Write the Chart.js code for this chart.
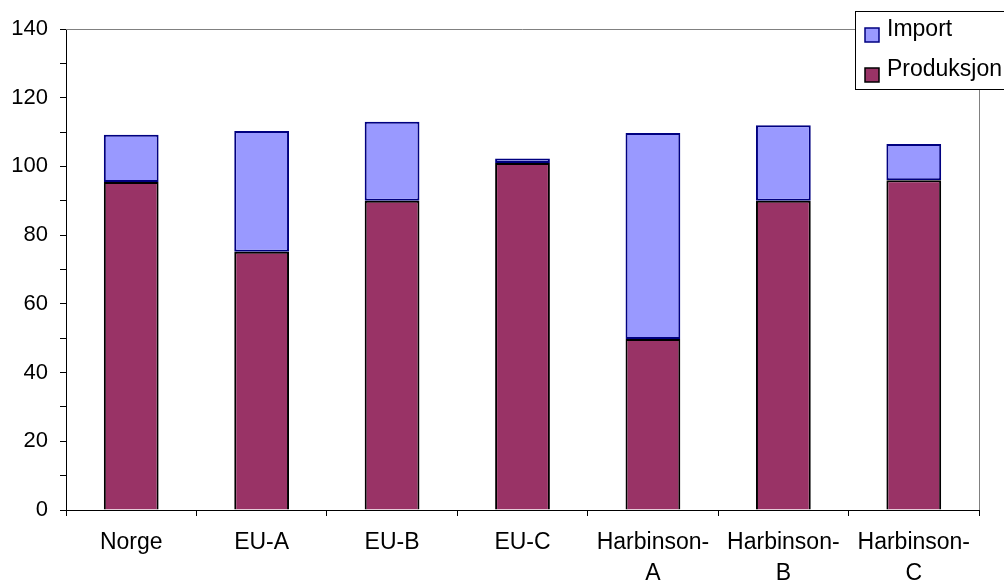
<!DOCTYPE html>
<html>
<head>
<meta charset="utf-8">
<script src="https://cdn.jsdelivr.net/npm/chart.js@4/dist/chart.umd.min.js"></script>
<style>
  html, body { margin: 0; padding: 0; background: #ffffff; }
  #wrap { width: 1004px; height: 583px; }
</style>
</head>
<body>
<div id="wrap"><canvas id="c" width="1004" height="583"></canvas></div>
<script>
// Categories and series
const categories = ['Norge', 'EU-A', 'EU-B', 'EU-C', ['Harbinson-', 'A'], ['Harbinson-', 'B'], ['Harbinson-', 'C']];
const produksjon = [95.5, 75.2, 90.0, 101.0, 49.8, 90.0, 96.0];
const importVals = [13.7, 35.1, 23.0, 1.3, 59.9, 22.0, 10.5];
const yTicks = [0, 20, 40, 60, 80, 100, 120, 140];

const FONT = "'Liberation Sans', Arial, sans-serif";

// Gray frame on the top and right of the plot area
const frame = {
  id: 'frame',
  beforeDatasetsDraw(chart) {
    const { ctx, chartArea: a } = chart;
    ctx.save();
    ctx.strokeStyle = '#808080';
    ctx.lineWidth = 1;
    ctx.beginPath();
    ctx.moveTo(a.left, Math.round(a.top) + 0.5);
    ctx.lineTo(Math.round(a.right) + 0.5, Math.round(a.top) + 0.5);
    ctx.lineTo(Math.round(a.right) + 0.5, a.bottom);
    ctx.stroke();
    ctx.restore();
  }
};

// Boxed legend in the upper right corner
const boxLegend = {
  id: 'boxLegend',
  afterDraw(chart) {
    const { ctx } = chart;
    const x = 855, y = 11, w = 200, h = 78;
    ctx.save();
    ctx.fillStyle = '#ffffff';
    ctx.fillRect(x, y, w, h);
    ctx.strokeStyle = '#000000';
    ctx.lineWidth = 1;
    ctx.strokeRect(x + 0.5, y + 0.5, w, h);
    const items = [chart.data.datasets[1], chart.data.datasets[0]];
    const rows = [30, 70];
    ctx.font = '23px ' + FONT;
    ctx.textBaseline = 'middle';
    ctx.textAlign = 'left';
    items.forEach((ds, i) => {
      const cy = rows[i];
      ctx.fillStyle = ds.backgroundColor;
      ctx.fillRect(865, cy - 2, 14, 14);
      ctx.strokeStyle = ds.borderColor;
      ctx.lineWidth = 1.5;
      ctx.strokeRect(865, cy - 2, 14, 14);
      ctx.fillStyle = '#000000';
      ctx.fillText(ds.label, 887, cy);
    });
    ctx.restore();
  }
};

new Chart(document.getElementById('c'), {
  type: 'bar',
  data: {
    labels: categories,
    datasets: [
      {
        label: 'Produksjon',
        data: produksjon,
        backgroundColor: '#993366',
        borderColor: '#000000',
        borderWidth: 2,
        borderSkipped: 'start'
      },
      {
        label: 'Import',
        data: importVals,
        backgroundColor: '#9999FF',
        borderColor: '#000080',
        borderWidth: 2,
        borderSkipped: false
      }
    ]
  },
  options: {
    responsive: false,
    animation: false,
    layout: { padding: { left: 0, top: 29, right: 25, bottom: 0 } },
    categoryPercentage: 1,
    barPercentage: 0.42,
    plugins: {
      legend: { display: false },
      tooltip: { enabled: false }
    },
    scales: {
      x: {
        stacked: true,
        grid: { display: true, drawOnChartArea: false, drawTicks: true, tickLength: 6, color: '#000000', offset: true },
        border: { display: true, color: '#000000', width: 1 },
        ticks: {
          color: '#000000',
          font: { family: FONT, size: 23, lineHeight: 1.35 },
          padding: 11,
          maxRotation: 0,
          autoSkip: false
        },
        afterFit(scale) { scale.height = 73; }
      },
      y: {
        stacked: true,
        min: 0,
        max: 140,
        grid: { display: true, drawOnChartArea: false, drawTicks: true, tickLength: 6, color: '#000000' },
        border: { display: true, color: '#000000', width: 1 },
        ticks: {
          stepSize: 10,
          color: '#000000',
          font: { family: FONT, size: 22 },
          padding: 12,
          callback: (v) => (yTicks.includes(v) ? String(v) : '')
        },
        afterFit(scale) { scale.width = 66; }
      }
    }
  },
  plugins: [frame, boxLegend]
});
</script>
</body>
</html>
